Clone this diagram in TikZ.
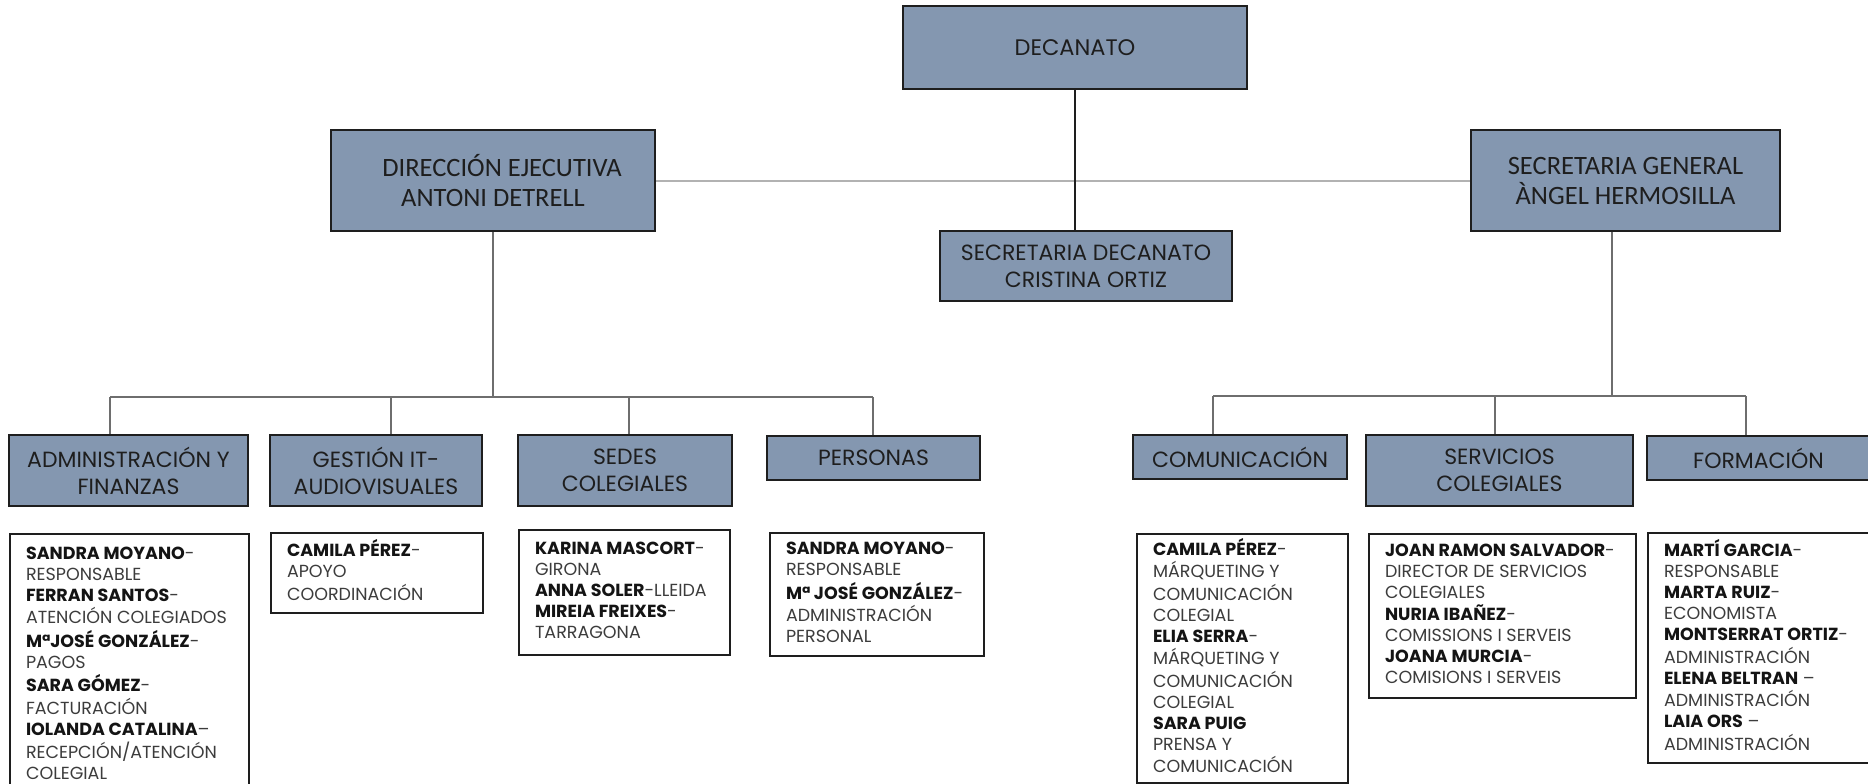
\documentclass[tikz,border=0pt]{standalone}
\usepackage{fontspec}
\setmainfont{Poppins}
\newfontfamily\calibfont{Carlito}
\definecolor{boxfill}{HTML}{8497B0}
\definecolor{boxline}{HTML}{1E1E1E}
\definecolor{connc}{HTML}{6E6E6E}
\definecolor{connlight}{HTML}{B2B2B2}
\definecolor{namec}{HTML}{141414}
\definecolor{rolec}{HTML}{3C3C3C}
\definecolor{titlec}{HTML}{1E1E1E}
\newcommand\pname[1]{{\bfseries\color{namec}#1}}
\newcommand\detailtxt[2]{\makebox[#1][l]{\begin{tabular}{@{}l@{}}#2\end{tabular}}}
\tikzset{
  unitbox/.style={draw=boxline, line width=2.2pt, fill=boxfill, align=center,
    inner sep=0pt, text=titlec},
  toptitle/.style={font=\calibfont\fontsize{26.5}{30}\selectfont},
  subtitle/.style={font=\fontsize{22}{27}\selectfont},
  detailbox/.style={draw=boxline, line width=2pt, fill=white, anchor=north west,
    inner xsep=16pt, inner ysep=0pt, text=rolec, font=\fontsize{17.5}{21}\selectfont},
  conn/.style={draw=connc, line width=1.5pt},
  connl/.style={draw=connlight, line width=2pt}
}
\begin{document}
\begin{tikzpicture}[x=1pt,y=-1pt]
\useasboundingbox (0,0) rectangle (1868,784);

% top level
\node[unitbox, minimum width=344pt, minimum height=83pt, font=\fontsize{22.5}{26}\selectfont] (dec) at (1075,47.5) {DECANATO};
\node[unitbox, toptitle, minimum width=324pt, minimum height=101pt] (de) at (493,180.5) {\hspace*{18pt}DIRECCIÓN EJECUTIVA\\ANTONI DETRELL};
\node[unitbox, toptitle, minimum width=309pt, minimum height=101pt] (sg) at (1625.5,180.5) {SECRETARIA GENERAL\\ÀNGEL HERMOSILLA};
\node[unitbox, minimum width=292pt, minimum height=70pt, font=\fontsize{22}{27}\selectfont] (sd) at (1086,266) {SECRETARIA DECANATO\\CRISTINA ORTIZ};

% departments
\node[unitbox, subtitle, minimum width=239pt, minimum height=71pt] (adm) at (128.5,470.5) {ADMINISTRACIÓN Y\\FINANZAS};
\node[unitbox, subtitle, minimum width=212pt, minimum height=71pt] (git) at (376,470.5) {GESTIÓN IT-\\AUDIOVISUALES};
\node[unitbox, subtitle, minimum width=214pt, minimum height=71pt] (sed) at (625,470.5) {SEDES\\COLEGIALES};
\node[unitbox, subtitle, minimum width=213pt, minimum height=44pt] (per) at (873.5,458) {PERSONAS};
\node[unitbox, subtitle, minimum width=214pt, minimum height=44pt] (com) at (1240,457) {COMUNICACIÓN};
\node[unitbox, subtitle, minimum width=267pt, minimum height=71pt] (ser) at (1499.5,470.5) {SERVICIOS\\COLEGIALES};
\node[unitbox, subtitle, minimum width=223pt, minimum height=44pt] (for) at (1758.5,458) {FORMACIÓN};

% detail boxes
\node[detailbox, minimum height=262pt] (admd) at (9,533) {\detailtxt{207pt}{%
\pname{SANDRA MOYANO}-\\ RESPONSABLE\\ \pname{FERRAN SANTOS}-\\ ATENCIÓN COLEGIADOS\\
\pname{MªJOSÉ GONZÁLEZ}-\\ PAGOS\\ \pname{SARA GÓMEZ}-\\ FACTURACIÓN\\
\pname{IOLANDA CATALINA}–\\ RECEPCIÓN/ATENCIÓN\\ COLEGIAL}};
\node[detailbox, minimum height=80pt] (gitd) at (270,532) {\detailtxt{180pt}{%
\pname{CAMILA PÉREZ}-\\ APOYO\\ COORDINACIÓN}};
\node[detailbox, minimum height=125pt] (sedd) at (518,529) {\detailtxt{179pt}{%
\pname{KARINA MASCORT}-\\ GIRONA\\ \pname{ANNA SOLER}-LLEIDA\\ \pname{MIREIA FREIXES}-\\ TARRAGONA}};
\node[detailbox, minimum height=123pt] (perd) at (769,532) {\detailtxt{182pt}{%
\pname{SANDRA MOYANO}-\\ RESPONSABLE\\ \pname{Mª JOSÉ GONZÁLEZ}-\\ ADMINISTRACIÓN\\ PERSONAL}};
\node[detailbox, minimum height=249pt] (comd) at (1136,533) {\detailtxt{179pt}{%
\pname{CAMILA PÉREZ}-\\ MÁRQUETING Y\\ COMUNICACIÓN\\ COLEGIAL\\
\pname{ELIA SERRA}-\\ MÁRQUETING Y\\ COMUNICACIÓN\\ COLEGIAL\\
\pname{SARA PUIG}\\ PRENSA Y\\ COMUNICACIÓN}};
\node[detailbox, minimum height=164pt] (serd) at (1368,533) {\detailtxt{235pt}{%
\pname{JOAN RAMON SALVADOR}-\\ DIRECTOR DE SERVICIOS\\ COLEGIALES\\
\pname{NURIA IBAÑEZ}-\\ COMISSIONS I SERVEIS\\ \pname{JOANA MURCIA}-\\ COMISIONS I SERVEIS}};
\node[detailbox, minimum height=230pt] (ford) at (1647,532) {\detailtxt{200pt}{%
\pname{MARTÍ GARCIA}-\\ RESPONSABLE\\ \pname{MARTA RUIZ}-\\ ECONOMISTA\\
\pname{MONTSERRAT ORTIZ}-\\ ADMINISTRACIÓN\\ \pname{ELENA BELTRAN} –\\ ADMINISTRACIÓN\\
\pname{LAIA ORS} –\\ ADMINISTRACIÓN}};

% connectors, top
\draw[connl] (de.east) -- (sg.west);
\draw[conn, draw=boxline, line width=1.3pt] (dec.south) -- (dec.south |- sd.north);

% left bus
\coordinate (lb1) at (110,397);
\coordinate (lb2) at (391,397);
\coordinate (lb3) at (629,397);
\coordinate (lb4) at (873,397);
\draw[conn] (de.south) -- (de.south |- lb1);
\draw[conn] (lb1) -- (lb4);
\draw[conn] (lb1) -- (lb1 |- adm.north);
\draw[conn] (lb2) -- (lb2 |- git.north);
\draw[conn] (lb3) -- (lb3 |- sed.north);
\draw[conn] (lb4) -- (lb4 |- per.north);

% right bus
\coordinate (rj) at (1612,396);
\coordinate (rb1) at (1213,396);
\coordinate (rb2) at (1495,396);
\coordinate (rb3) at (1746,396);
\draw[conn] (rj |- sg.south) -- (rj);
\draw[conn] (rb1) -- (rb3);
\draw[conn] (rb1) -- (rb1 |- com.north);
\draw[conn] (rb2) -- (rb2 |- ser.north);
\draw[conn] (rb3) -- (rb3 |- for.north);
\end{tikzpicture}
\end{document}
